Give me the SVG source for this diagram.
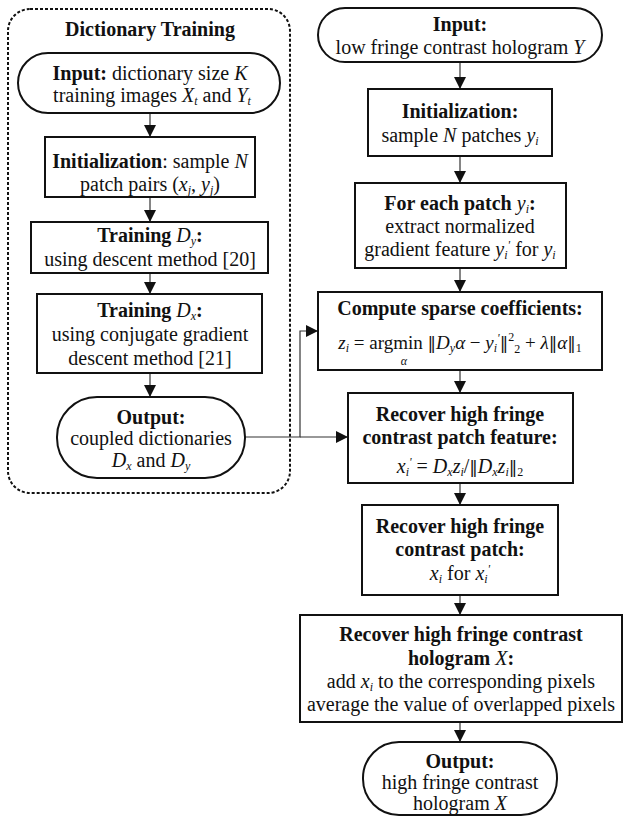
<svg xmlns="http://www.w3.org/2000/svg" width="624" height="821" viewBox="0 0 624 821">
<style>
text{font-family:"Liberation Serif","Times New Roman",serif;font-size:20px;fill:#111;text-anchor:middle}
.b{font-weight:bold}
.i{font-style:italic}
.s{font-size:12px}
.n{font-family:"DejaVu Serif",serif;font-size:17px}
.f{font-size:19px}
.box{fill:#fff;stroke:#111;stroke-width:2}
.con{fill:none;stroke:#333;stroke-width:1.2}
</style>
<defs>
<marker id="ah" markerUnits="userSpaceOnUse" markerWidth="12" markerHeight="12" refX="12" refY="6" orient="auto">
<path d="M0,0 L12,6 L0,12 z" fill="#111"/>
</marker>
</defs>
<g id="container">
<rect x="8" y="9" width="282" height="484" rx="22" fill="none" stroke="#111" stroke-width="2" stroke-dasharray="3,2"/>
<text class="b" x="150" y="36">Dictionary Training</text>
</g>
<g id="connectors">
<line class="con" x1="150" y1="113" x2="150" y2="137" marker-end="url(#ah)"/>
<line class="con" x1="150" y1="197" x2="150" y2="222" marker-end="url(#ah)"/>
<line class="con" x1="150" y1="273" x2="150" y2="294" marker-end="url(#ah)"/>
<line class="con" x1="150" y1="373" x2="150" y2="397" marker-end="url(#ah)"/>
<line class="con" x1="460" y1="62" x2="460" y2="89" marker-end="url(#ah)"/>
<line class="con" x1="460" y1="156" x2="460" y2="183" marker-end="url(#ah)"/>
<line class="con" x1="460" y1="268" x2="460" y2="292" marker-end="url(#ah)"/>
<line class="con" x1="460" y1="370" x2="460" y2="393" marker-end="url(#ah)"/>
<line class="con" x1="460" y1="483" x2="460" y2="505" marker-end="url(#ah)"/>
<line class="con" x1="460" y1="595" x2="460" y2="615" marker-end="url(#ah)"/>
<line class="con" x1="460" y1="722" x2="460" y2="742" marker-end="url(#ah)"/>
<polyline class="con" points="245,437 300,437 300,331 318,331" marker-end="url(#ah)"/>
<line class="con" x1="300" y1="437" x2="348" y2="437" marker-end="url(#ah)"/>
</g>
<g id="dt-input">
<rect class="box" x="18" y="53" width="262" height="60" rx="30"/>
<text x="150" y="80"><tspan class="b">Input:</tspan> dictionary size <tspan class="i">K</tspan></text>
<text x="152" y="102">training images  <tspan class="i">X</tspan><tspan class="i s" dy="3">t</tspan><tspan dy="-3"> and </tspan><tspan class="i">Y</tspan><tspan class="i s" dy="3">t</tspan></text>
</g>
<g id="dt-init">
<rect class="box" x="45" y="137" width="210" height="60"/>
<text x="150" y="168"><tspan class="b">Initialization</tspan>: sample <tspan class="i">N</tspan></text>
<text x="150" y="191">patch pairs (<tspan class="i">x</tspan><tspan class="i s" dy="3">j</tspan><tspan dy="-3">, </tspan><tspan class="i">y</tspan><tspan class="i s" dy="3">j</tspan><tspan dy="-3">)</tspan></text>
</g>
<g id="dt-train-dy">
<rect class="box" x="31" y="222" width="237" height="51"/>
<text x="150" y="242"><tspan class="b">Training </tspan><tspan class="i">D</tspan><tspan class="i s" dy="3">y</tspan><tspan class="b" dy="-3">:</tspan></text>
<text x="150" y="266">using descent method [20]</text>
</g>
<g id="dt-train-dx">
<rect class="box" x="37" y="294" width="225" height="79"/>
<text x="150" y="317"><tspan class="b">Training </tspan><tspan class="i">D</tspan><tspan class="i s" dy="3">x</tspan><tspan class="b" dy="-3">:</tspan></text>
<text x="150" y="341">using conjugate gradient</text>
<text x="150" y="365">descent method [21]</text>
</g>
<g id="dt-output">
<rect class="box" x="57" y="397" width="188" height="81" rx="40"/>
<text class="b" x="151" y="424">Output:</text>
<text x="151" y="445">coupled dictionaries</text>
<text x="151" y="467"><tspan class="i">D</tspan><tspan class="i s" dy="3">x</tspan><tspan dy="-3"> and  </tspan><tspan class="i">D</tspan><tspan class="i s" dy="3">y</tspan></text>
</g>
<g id="input">
<rect class="box" x="318" y="8" width="284" height="54" rx="27"/>
<text class="b" x="460" y="31">Input:</text>
<text x="460" y="54">low fringe contrast hologram <tspan class="i">Y</tspan></text>
</g>
<g id="init">
<rect class="box" x="368" y="89" width="184" height="67"/>
<text class="b" x="460" y="118">Initialization:</text>
<text x="460" y="142">sample <tspan class="i">N</tspan> patches  <tspan class="i">y</tspan><tspan class="i s" dy="3">i</tspan></text>
</g>
<g id="foreach">
<rect class="box" x="355" y="183" width="211" height="85"/>
<text x="460" y="210"><tspan class="b">For each patch  </tspan><tspan class="i">y</tspan><tspan class="i s" dy="3">i</tspan><tspan class="b" dy="-3">:</tspan></text>
<text x="460" y="233">extract normalized</text>
<text x="460" y="256">gradient feature  <tspan class="i">y</tspan><tspan class="i s" dy="3">i</tspan><tspan class="i s" dy="-10">'</tspan><tspan dy="7"> for </tspan><tspan class="i">y</tspan><tspan class="i s" dy="3">i</tspan></text>
</g>
<g id="compute">
<rect class="box" x="318" y="292" width="284" height="78"/>
<text class="b" x="460" y="315">Compute sparse coefficients:</text>
<text class="f" x="460" y="349"><tspan class="i">z</tspan><tspan class="i s" dy="3">i</tspan><tspan dy="-3"> = argmin </tspan><tspan class="n">‖</tspan><tspan class="i">D</tspan><tspan class="i s" dy="3">y</tspan><tspan class="i" dy="-3">α</tspan><tspan> − </tspan><tspan class="i">y</tspan><tspan class="i s" dy="3">i</tspan><tspan class="i s" dy="-10">'</tspan><tspan class="n" dy="7">‖</tspan><tspan class="s" dy="-8">2</tspan><tspan class="s" dy="12">2</tspan><tspan dy="-4"> + </tspan><tspan class="i">λ</tspan><tspan class="n">‖</tspan><tspan class="i">α</tspan><tspan class="n">‖</tspan><tspan class="s" dy="3">1</tspan></text>
<text class="i s" x="404" y="365">α</text>
</g>
<g id="recover-feature">
<rect class="box" x="348" y="393" width="225" height="90"/>
<text class="b" x="460" y="421">Recover high fringe</text>
<text class="b" x="460" y="444">contrast patch feature:</text>
<text x="460" y="473"><tspan class="i">x</tspan><tspan class="i s" dy="3">i</tspan><tspan class="i s" dy="-10">'</tspan><tspan dy="7"> = </tspan><tspan class="i">D</tspan><tspan class="i s" dy="3">x</tspan><tspan class="i" dy="-3">z</tspan><tspan class="i s" dy="3">i</tspan><tspan dy="-3">/</tspan><tspan class="n">‖</tspan><tspan class="i">D</tspan><tspan class="i s" dy="3">x</tspan><tspan class="i" dy="-3">z</tspan><tspan class="i s" dy="3">i</tspan><tspan class="n" dy="-3">‖</tspan><tspan class="s" dy="3">2</tspan></text>
</g>
<g id="recover-patch">
<rect class="box" x="362" y="505" width="196" height="90"/>
<text class="b" x="460" y="533">Recover high fringe</text>
<text class="b" x="460" y="556">contrast patch:</text>
<text x="460" y="580"><tspan class="i">x</tspan><tspan class="i s" dy="3">i</tspan><tspan dy="-3">  for  </tspan><tspan class="i">x</tspan><tspan class="i s" dy="3">i</tspan><tspan class="i s" dy="-10">'</tspan></text>
</g>
<g id="recover-hologram">
<rect class="box" x="300" y="615" width="322" height="107"/>
<text class="b" x="461" y="641">Recover high fringe contrast</text>
<text x="461" y="665"><tspan class="b">hologram </tspan><tspan class="i">X</tspan><tspan class="b">:</tspan></text>
<text x="461" y="688">add  <tspan class="i">x</tspan><tspan class="i s" dy="3">i</tspan><tspan dy="-3"> to the corresponding pixels</tspan></text>
<text x="461" y="711">average the value of overlapped pixels</text>
</g>
<g id="output">
<rect class="box" x="363" y="742" width="194" height="73" rx="36"/>
<text class="b" x="460" y="768">Output:</text>
<text x="460" y="789">high fringe contrast</text>
<text x="460" y="810">hologram <tspan class="i">X</tspan></text>
</g>
</svg>
